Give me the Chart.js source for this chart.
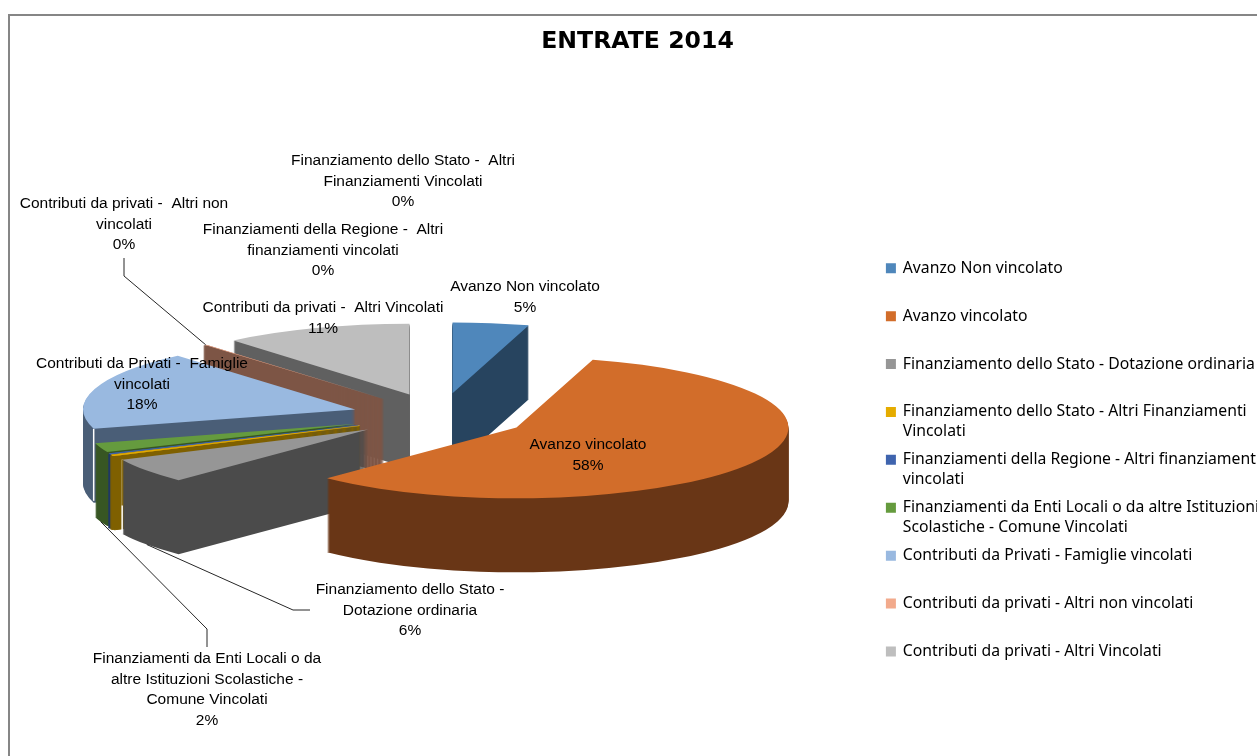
<!DOCTYPE html>
<html>
<head>
<meta charset="utf-8">
<style>
html,body{margin:0;padding:0;background:#fff;width:1257px;height:756px;overflow:hidden}
#frame{position:absolute;left:8px;top:14px;right:-5px;bottom:-5px;border-left:2px solid #868686;border-top:2px solid #868686}
canvas{position:absolute;left:0;top:0}
</style>
<script src="https://cdn.jsdelivr.net/npm/chart.js@4"></script>
</head>
<body>
<div id="frame"></div>
<canvas id="c" width="1257" height="756"></canvas>
<script>
const categories = [
  "Avanzo Non vincolato",
  "Avanzo vincolato",
  "Finanziamento dello Stato - Dotazione ordinaria",
  "Finanziamento dello Stato - Altri Finanziamenti Vincolati",
  "Finanziamenti della Regione - Altri finanziamenti vincolati",
  "Finanziamenti da Enti Locali o da altre Istituzioni Scolastiche - Comune Vincolati",
  "Contributi da Privati - Famiglie vincolati",
  "Contributi da privati - Altri non vincolati",
  "Contributi da privati - Altri Vincolati"
];
const values = [4.52, 57.68, 5.7, 0.3, 0.2, 2.1, 18.1, 0.1, 11.2];
const topColors = ["#4f87bb","#d26d2a","#969696","#e5ac00","#3f64ae","#659b3e","#99b9e0","#f2aa8c","#bebebe"];
const wallColors = ["#27445f","#693616","#4b4b4b","#7f6000","#1f3864","#375623","#4a5e77","#7d5545","#606060"];
const legendLines = [
  ["Avanzo Non vincolato",""],
  ["Avanzo vincolato",""],
  ["Finanziamento dello Stato - Dotazione ordinaria",""],
  ["Finanziamento dello Stato - Altri Finanziamenti","Vincolati"],
  ["Finanziamenti della Regione - Altri finanziamenti","vincolati"],
  ["Finanziamenti da Enti Locali o da altre Istituzioni","Scolastiche - Comune Vincolati"],
  ["Contributi da Privati - Famiglie vincolati",""],
  ["Contributi da privati - Altri non vincolati",""],
  ["Contributi da privati - Altri Vincolati",""]
];
const labelLines = [
  ["Avanzo Non vincolato"],
  ["Avanzo vincolato"],
  ["Finanziamento dello Stato -","Dotazione ordinaria"],
  ["Finanziamento dello Stato -  Altri","Finanziamenti Vincolati"],
  ["Finanziamenti della Regione -  Altri","finanziamenti vincolati"],
  ["Finanziamenti da Enti Locali o da","altre Istituzioni Scolastiche -","Comune Vincolati"],
  ["Contributi da Privati -  Famiglie","vincolati"],
  ["Contributi da privati -  Altri non","vincolati"],
  ["Contributi da privati -  Altri Vincolati"]
];
const labelCenterX = [525, 588, 410, 403, 323, 207, 142, 124, 323];
const labelFirstY  = [287, 445, 590, 161, 230, 659, 364, 204, 308];
const leaderKnees = [
  {index:7, points:[[124,258],[124,276]], bottom:false},
  {index:2, points:[[310,610],[293,610]], bottom:true},
  {index:5, points:[[207,647],[207,629]], bottom:true}
];

const PIE_X = 440, PIE_Y = 416, RADIUS = 272, SQUASH = 0.26, DEPTH = 74, EXPLODE = 88.5;
const DRAW_ORDER = [0, 8, 7, 6, 5, 4, 3, 2, 1];
const LABEL_FONT = '15.5px "Liberation Sans"';
const LABEL_PITCH = 20.6;

function midAngle(el){ return (el.startAngle + el.endAngle) / 2; }
function paintArc(ctx, el, color, dy, border){
  const a = midAngle(el);
  const saved = el.options;
  el.options = Object.assign({}, saved, {backgroundColor: color, borderColor: color, borderWidth: border, offset: 0});
  ctx.save();
  ctx.translate(PIE_X, PIE_Y + dy);
  ctx.scale(1, SQUASH);
  ctx.translate(Math.cos(a) * EXPLODE, Math.sin(a) * EXPLODE);
  ctx.translate(-el.x, -el.y);
  el.draw(ctx);
  ctx.restore();
  el.options = saved;
}
function rimPoint(el, angle, dy){
  const a = midAngle(el);
  return [
    PIE_X + Math.cos(a) * EXPLODE + Math.cos(angle) * el.outerRadius,
    PIE_Y + (Math.sin(a) * EXPLODE + Math.sin(angle) * el.outerRadius) * SQUASH + dy
  ];
}
// The side wall is swept on a scratch layer, then flooded with one flat colour,
// so the repeated antialiased layers leave no streaks.
function paintWall(ctx, el, color, border){
  const off = document.createElement('canvas');
  off.width = ctx.canvas.width;
  off.height = ctx.canvas.height;
  const o = off.getContext('2d');
  for (let k = DEPTH; k >= 1; k--) paintArc(o, el, color, k, border);
  o.globalCompositeOperation = 'source-in';
  o.fillStyle = color;
  o.fillRect(0, 0, off.width, off.height);
  ctx.drawImage(off, 0, 0);
}

const pie3d = {
  id: 'pie3d',
  afterLayout(chart){
    const lg = chart.legend;
    const w = lg.right - lg.left;
    lg.left = 879; lg.right = 879 + w;
    lg.top += 94; lg.bottom += 94;
  },
  beforeDatasetDraw(chart, args){
    const ctx = chart.ctx;
    const els = args.meta.data;
    DRAW_ORDER.forEach(i => {
      const el = els[i];
      paintWall(ctx, el, wallColors[i], values[i] < 1 ? 4 : 0);
      if (i === 6) edge(ctx, el, el.startAngle, '#ffffff', 0, DEPTH - 2);
      if (i === 2) {
        edge(ctx, el, el.endAngle, '#ffffff', 0, DEPTH);
        edge(ctx, el, el.endAngle, wallColors[3], 0, DEPTH * 0.62);
      }
      paintArc(ctx, el, topColors[i], 0, (i === 3 || i === 4) ? 2 : 0);
    });
    return false;
  },
  afterDraw(chart){
    const ctx = chart.ctx;
    const els = chart.getDatasetMeta(0).data;
    ctx.save();
    ctx.strokeStyle = '#262626';
    ctx.lineWidth = 1;
    leaderKnees.forEach(l => {
      const el = els[l.index];
      const end = rimPoint(el, midAngle(el), l.bottom ? DEPTH : 0);
      ctx.beginPath();
      l.points.forEach((p, j) => j ? ctx.lineTo(p[0], p[1]) : ctx.moveTo(p[0], p[1]));
      ctx.lineTo(end[0], end[1]);
      ctx.stroke();
    });
    const total = values.reduce((a, b) => a + b, 0);
    ctx.font = LABEL_FONT;
    ctx.fillStyle = '#000000';
    ctx.textAlign = 'center';
    ctx.textBaseline = 'middle';
    labelLines.forEach((lines, i) => {
      const all = lines.concat([Math.round(values[i] / total * 100) + '%']);
      all.forEach((t, j) => ctx.fillText(t, labelCenterX[i], labelFirstY[i] + j * LABEL_PITCH));
    });
    ctx.restore();
  }
};
function edge(ctx, el, angle, color, from, to){
  const p = rimPoint(el, angle, from), q = rimPoint(el, angle, to);
  ctx.save();
  ctx.strokeStyle = color;
  ctx.lineWidth = 1.5;
  ctx.beginPath();
  ctx.moveTo(p[0], p[1]);
  ctx.lineTo(q[0], q[1]);
  ctx.stroke();
  ctx.restore();
}

new Chart(document.getElementById('c'), {
  type: 'pie',
  data: {
    labels: categories,
    datasets: [{
      data: values,
      backgroundColor: topColors,
      borderWidth: 0,
      radius: RADIUS
    }]
  },
  options: {
    responsive: false,
    animation: false,
    events: [],
    layout: { padding: { left: 18 } },
    plugins: {
      tooltip: { enabled: false },
      title: {
        display: true,
        text: 'ENTRATE 2014',
        color: '#000000',
        font: { family: '"DejaVu Sans"', size: 23.6, weight: 'bold', lineHeight: 1.2 },
        padding: { top: 28, bottom: 20 }
      },
      legend: {
        display: true,
        position: 'right',
        labels: {
          color: '#1a1a1a',
          font: { family: '"Noto Sans"', size: 15.75, lineHeight: 1.27 },
          boxWidth: 8,
          boxHeight: 8,
          padding: 7.9,
          generateLabels(chart){
            return legendLines.map((text, i) => ({
              text, fillStyle: topColors[i], strokeStyle: topColors[i], lineWidth: 2, index: i, hidden: false
            }));
          }
        }
      }
    }
  },
  plugins: [pie3d]
});
</script>
</body>
</html>
